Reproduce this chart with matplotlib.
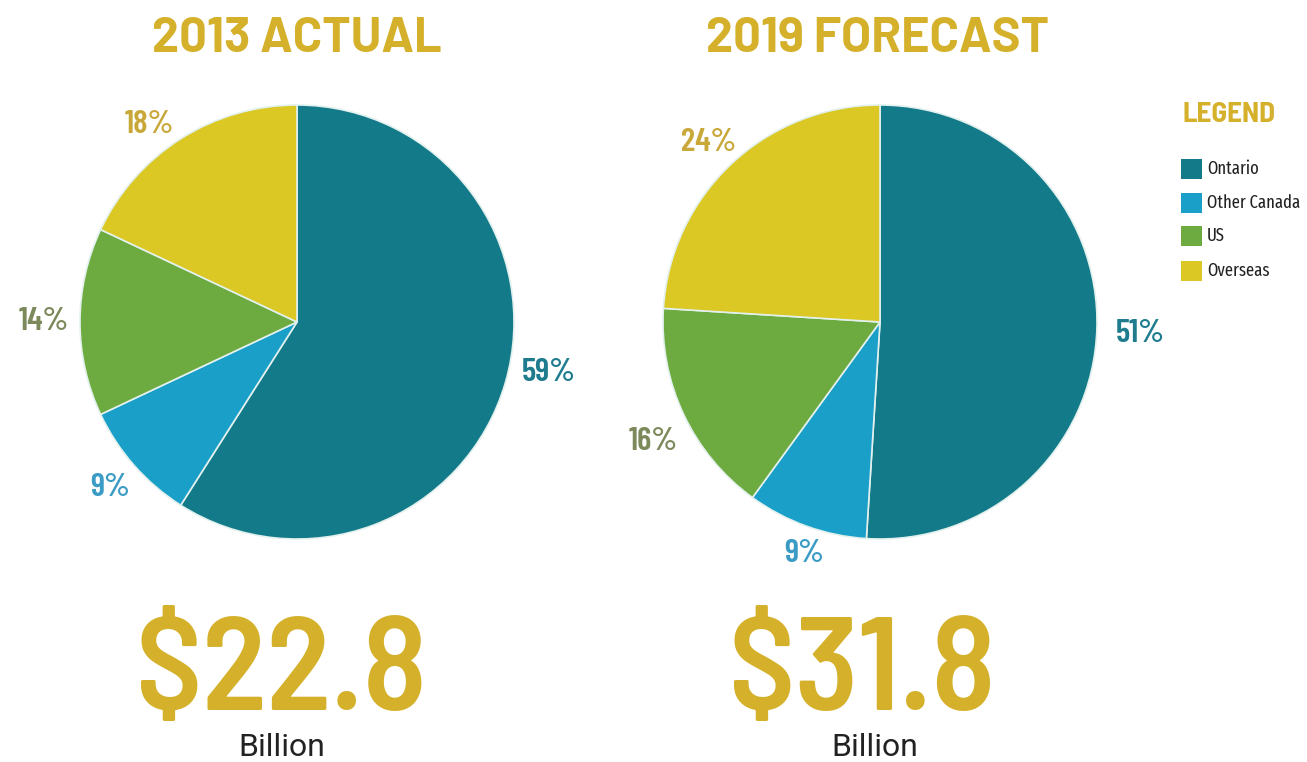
import numpy as np
import matplotlib
matplotlib.use("Agg")
import matplotlib.pyplot as plt
from matplotlib.patches import Rectangle

# Revenue share by market
categories = ["Ontario", "Other Canada", "US", "Overseas"]
share_2013 = [59, 9, 14, 18]
share_2019 = [51, 9, 16, 24]
total_2013 = 22.8
total_2019 = 31.8
titles = ["2013 ACTUAL", "2019 FORECAST"]

# percentage label anchors, in units of the pie radius
label_xy_2013 = [(1.161, -0.221), (-0.862, -0.747), (-1.166, 0.018), (-0.682, 0.922)]
label_xy_2019 = [(1.198, -0.037), (-0.350, -1.055), (-1.046, -0.535), (-0.789, 0.843)]

slice_colors = ["#137A8A", "#1A9FC9", "#6DAA3F", "#DBC824"]
label_colors = ["#1E7C8E", "#3A9CC4", "#7C8A5B", "#C9A83A"]
gold = "#D5B12B"

title_font = ["Barlow", "Barlow Semi Condensed", "DejaVu Sans"]
num_font = ["Barlow Semi Condensed", "DejaVu Sans"]
pct_font = ["Barlow Condensed", "DejaVu Sans"]
small_font = ["Fira Sans Extra Condensed", "DejaVu Sans"]
plain_font = ["Roboto", "DejaVu Sans"]

W, H = 1307, 762
fig = plt.figure(figsize=(W / 100, H / 100), dpi=100)
fig.patch.set_facecolor("white")


def pie_axes(cx, cy, r, pad=1.45):
    size = 2 * r * pad
    ax = fig.add_axes([(cx - size / 2) / W, (H - cy - size / 2) / H, size / W, size / H])
    ax.axis("off")
    return ax


def draw_pie(ax, values, label_xy, pad=1.45):
    ax.pie(values, colors=slice_colors, startangle=90, counterclock=False,
           radius=1.0, wedgeprops=dict(edgecolor="#E3F1EE", linewidth=1.2))
    ax.set_xlim(-pad, pad)
    ax.set_ylim(-pad, pad)
    for (x, y), v, c in zip(label_xy, values, label_colors):
        ax.text(x, y, f"{v}%", ha="center", va="center_baseline",
                color=c, fontsize=24, fontweight="semibold", family=pct_font)


ax1 = pie_axes(297, 322, 217)
draw_pie(ax1, share_2013, label_xy_2013)
ax2 = pie_axes(880, 322, 217)
draw_pie(ax2, share_2019, label_xy_2019)

# headings
for x, t in [(297, titles[0]), (877, titles[1])]:
    fig.text(x / W, 1 - 52 / H, t, ha="center", va="baseline", color=gold,
             fontsize=35, fontweight="bold", family=title_font)

# totals
for x, xb, tot in [(281, 282, total_2013), (862, 875, total_2019)]:
    fig.text(x / W, 1 - 710 / H, f"${tot}", ha="center", va="baseline", color=gold,
             fontsize=95, fontweight="semibold", family=num_font)
    fig.text(xb / W, 1 - 756 / H, "Billion", ha="center", va="baseline", color="#222222",
             fontsize=23, family=plain_font)

# legend
fig.text(1182 / W, 1 - 122 / H, "LEGEND", ha="left", va="baseline", color=gold,
         fontsize=21, fontweight="bold", family=num_font)
leg_y = [169, 203, 236, 271]
for y, name, col in zip(leg_y, categories, slice_colors):
    fig.patches.append(Rectangle((1181 / W, 1 - (y + 10) / H), 21 / W, 20 / H,
                                 transform=fig.transFigure, facecolor=col, edgecolor="none"))
    fig.text(1207 / W, 1 - y / H, name, ha="left", va="center", color="#222222",
             fontsize=13, family=small_font)

fig.savefig("out.png", dpi=100, facecolor="white")
